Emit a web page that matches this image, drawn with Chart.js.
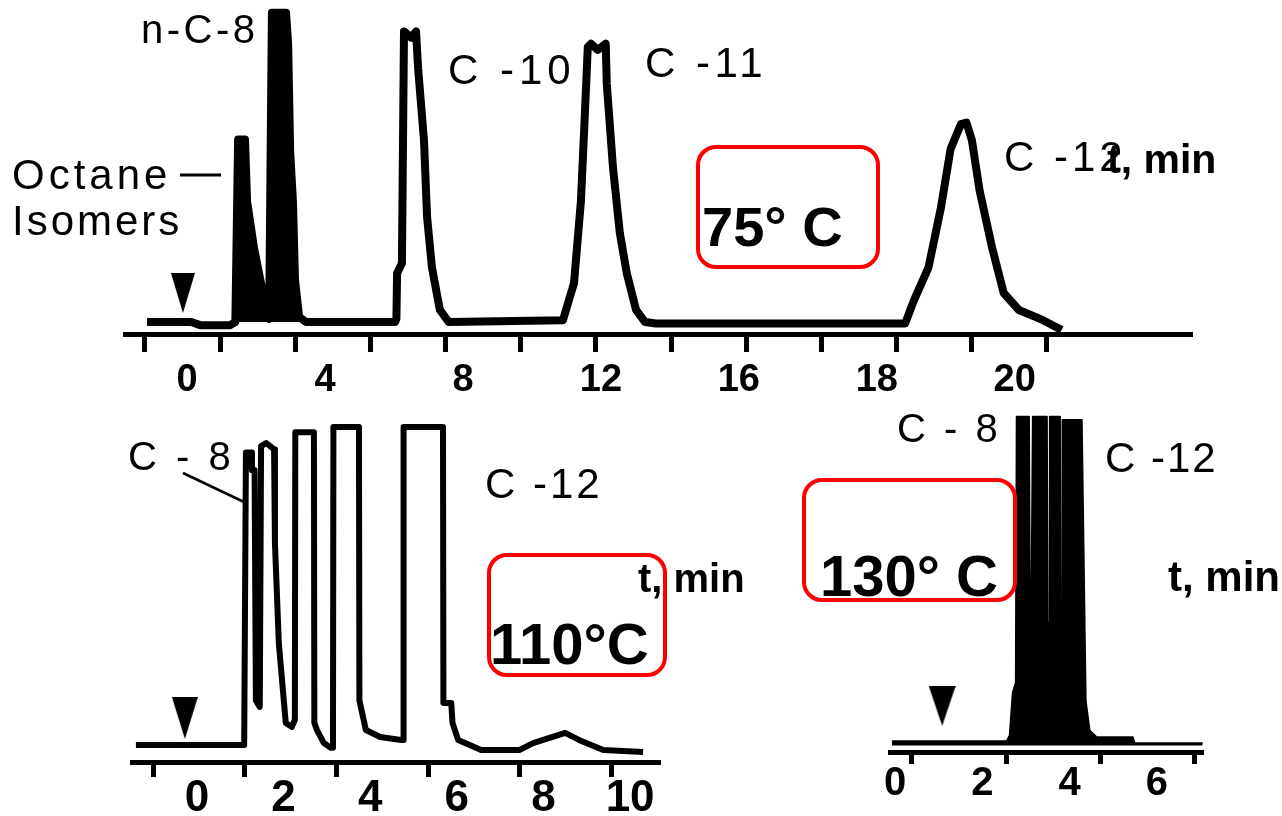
<!DOCTYPE html>
<html><head><meta charset="utf-8">
<script src="https://cdn.jsdelivr.net/npm/chart.js@4.4.1/dist/chart.umd.min.js"></script>
<style>
html,body{margin:0;padding:0;background:#fff;width:1282px;height:816px;overflow:hidden;}
#stage{position:relative;width:1282px;height:816px;overflow:hidden;}
canvas{position:absolute;}
.t{position:absolute;font-family:"Liberation Sans",Arial,sans-serif;color:#000;line-height:1;white-space:pre;}
.b{font-weight:bold;}
.box{position:absolute;border:4px solid #f00;border-radius:20px;box-sizing:border-box;}
svg{position:absolute;left:0;top:0;}
</style></head>
<body><div id="stage">
<canvas id="c75" width="1282" height="420" style="left:0;top:0"></canvas>
<canvas id="c110" width="700" height="425" style="left:0;top:400px"></canvas>
<canvas id="c130" width="400" height="425" style="left:850px;top:400px"></canvas>
</div>
<script>
// ---------------- DATA ----------------
// 75 °C chromatogram: retention time (min) and detector signal (a.u.)
const time75 = [-1.16,0.12,0.38,1.25,1.40,1.48,1.68,1.74,1.94,2.20,2.29,2.38,2.46,2.87,2.93,2.99,3.07,3.13,3.25,3.45,
  6.03,6.07,6.09,6.23,6.29,6.50,6.64,6.70,6.87,6.96,7.10,7.33,7.59,
  10.90,11.22,11.42,11.51,11.62,11.71,11.91,12.14,12.17,12.35,12.55,12.75,13.02,13.28,13.60,
  18.41,18.54,18.75,18.93,19.07,19.22,19.30,19.38,19.49,19.67,19.84,20.06,20.41,20.68];
const signal75 = [0,0,-1,-1,0,59,59,39,24,9.4,3,1,100,100,90,55,39,13.5,1.6,0,
  0,1,15.8,19,94,92,94,82,58.7,33.9,17.7,3.9,0,
  0.6,12.6,39,61,89,90,88,90,77,50,28.7,15.8,3.9,0,-0.5,
  -0.5,7.1,17.7,37,56,64,64.5,58.7,42.6,24.2,9.4,3.9,0.6,-2.6];
const tickLabels75 = [0,4,8,12,16,18,20];
const tickMarks75 = [0,1,2,3,4,5,6,7,8,9,10,11,12];
const injection75 = {t:-0.12, s:9.4};

// 110 °C chromatogram
const time110 = [-1.41,1.09,1.13,1.25,1.27,1.33,1.36,1.45,1.48,1.60,1.78,1.80,1.89,2.05,2.19,2.26,2.27,2.70,2.71,2.77,2.93,3.09,
  3.14,3.15,3.74,3.75,3.90,4.23,4.71,4.76,4.77,5.68,5.69,5.87,5.90,6.03,6.56,7.44,7.76,8.50,8.82,9.38,10.30];
const signal110 = [0,0,92,92,86.5,86.5,14,12,94,95,93,63.5,32,6.9,5.7,7.9,98.4,98.4,6.9,4.7,0.6,-0.9,
  -0.9,100,100,14,4.7,2.5,1.6,1.6,100,100,13.2,13.2,6.9,1.6,-1.6,-1.6,0.6,3.8,1.6,-1.6,-2.2];
const tickLabels110 = [0,2,4,6,8,10];
const tickMarks110 = [0,1,2,3,4,5];
const injection110 = {t:-0.28, s:8.5};

// 130 °C chromatogram
const time130 = [-0.07,2.56,2.63,2.70,2.77,2.79,3.07,3.09,3.13,3.16,3.48,3.50,3.54,3.55,3.78,3.80,3.83,3.84,4.28,4.37,4.46,4.62,5.45,5.49,7.05];
const signal130 = [0,0,1.8,15,18,100,100,42.7,42.7,100,100,36.7,36.7,100,100,17.6,17.6,99,99,12.4,3.3,1.2,1.2,-0.6,-0.6];
const tickLabels130 = [0,2,4,6];
const tickMarks130 = [0,1,2,3];
const injection130 = {t:1.08, s:10.9};

// ---------------- SCALE: tick labels sit on evenly spaced slots ----------------
const SLOT_KNOTS = {c75: tickLabels75, c110: tickLabels110, c130: tickLabels130};
class SlotScale extends Chart.LinearScale {
  _k(){ return SLOT_KNOTS[this.chart.canvas.id]; }
  _toSlot(v){ const k=this._k(); let i=0; while(i<k.length-2 && v>k[i+1]) i++; return i+(v-k[i])/(k[i+1]-k[i]); }
  _fromSlot(s){ const k=this._k(); const i=Math.min(Math.max(Math.floor(s),0),k.length-2); return k[i]+(s-i)*(k[i+1]-k[i]); }
  getPixelForValue(v){
    if (v===null||v===undefined||isNaN(v)) return NaN;
    const a=this._toSlot(this.min), b=this._toSlot(this.max);
    return this.getPixelForDecimal((this._toSlot(v)-a)/(b-a));
  }
  getValueForPixel(p){
    const a=this._toSlot(this.min), b=this._toSlot(this.max);
    return this._fromSlot(a+this.getDecimalForPixel(p)*(b-a));
  }
}
SlotScale.id='slot';
SlotScale.defaults=Chart.LinearScale.defaults;
Chart.register(SlotScale);

function arrow(w,h){
  const c=document.createElement('canvas'); c.width=w; c.height=h;
  const g=c.getContext('2d'); g.fillStyle='#000';
  g.beginPath(); g.moveTo(0,0); g.lineTo(w,0); g.lineTo(w/2,h); g.closePath(); g.fill();
  return c;
}

function makeChart(id, cfg){
  const pts = cfg.time.map((t,i)=>({x:t, y:cfg.signal[i]}));
  const datasets = [{
    data: pts, borderColor:'#000', borderWidth:cfg.lw, pointRadius:0, tension:0,
    fill: cfg.fillTo!==undefined ? {value:cfg.fillTo} : false, backgroundColor:'#000', clip:false,
    borderJoinStyle:'round'
  }];
  if (cfg.fillRange){
    datasets.push({data: pts.filter(p=>p.x>=cfg.fillRange[0] && p.x<=cfg.fillRange[1]), borderColor:'#000', borderWidth:2,
      pointRadius:0, fill:{target:'origin'}, backgroundColor:'#000', clip:false});
  }
  datasets.push({type:'scatter', data:[{x:cfg.inj.t, y:cfg.inj.s}], pointStyle: arrow(cfg.arrowW, cfg.arrowH), pointRadius:10, clip:false});
  return new Chart(document.getElementById(id), {
    type:'line',
    data:{datasets},
    options:{
      responsive:false, animation:false, events:[],
      layout:{padding:cfg.pad},
      plugins:{legend:{display:false}, tooltip:{enabled:false}},
      scales:{
        x:{type:'slot', position:'bottom', weight:1, min:cfg.xmin, max:cfg.xmax,
          afterBuildTicks:(sc)=>{ sc.ticks = cfg.labels.map(v=>({value:v})); },
          grid:{display:false, drawTicks:false}, border:{display:false},
          ticks:{callback:(v)=>String(v), color:'#000', padding:cfg.lpad, maxRotation:0, autoSkip:false,
            font:{family:'"Liberation Sans", Arial, sans-serif', weight:'bold', size:cfg.fs, lineHeight:1}}},
        m:{type:'linear', position:'bottom', weight:0, min:cfg.mmin, max:cfg.mmax,
          afterBuildTicks:(sc)=>{ sc.ticks = cfg.marks.map(v=>({value:v})); },
          grid:{drawOnChartArea:false, drawTicks:true, tickLength:cfg.tl, tickWidth:5, tickColor:'#000'},
          border:{display:true, width:5, color:'#000'},
          ticks:{display:false}},
        y:{display:false, min:cfg.ymin, max:cfg.ymax}
      }
    }
  });
}

makeChart('c75', {time:time75, signal:signal75, labels:tickLabels75, marks:tickMarks75, inj:injection75,
  xmin:-1.80, xmax:22.57, mmin:-0.266, mmax:13.93, ymin:-3.87, ymax:100.6,
  pad:{left:125,right:90,top:10,bottom:10}, fs:38, lpad:10, tl:18, lw:8, fillRange:[1.3,3.5], arrowW:24, arrowH:40});
makeChart('c110', {time:time110, signal:signal110, labels:tickLabels110, marks:tickMarks110, inj:injection110,
  xmin:-1.50, xmax:10.69, mmin:-0.23, mmax:5.53, ymin:-5.35, ymax:103.8,
  pad:{left:132,right:40,top:15,bottom:4}, fs:44, lpad:0, tl:15, lw:6, arrowW:26, arrowH:42});
makeChart('c130', {time:time130, signal:signal130, labels:tickLabels130, marks:tickMarks130, inj:injection130,
  xmin:-0.115, xmax:7.06, mmin:-0.233, mmax:3.086, ymin:-3.33, ymax:101.8,
  pad:{left:40,right:47,top:5,bottom:21}, fs:40, lpad:0, tl:12, lw:2, fillTo:-1.3, arrowW:27, arrowH:40});

// ---------------- ANNOTATIONS (real text) ----------------
const notes = [
  {s:'n-C-8', x:141, y:9, f:40, ls:3.5},
  {s:'Octane', x:12, y:154, f:42, ls:4},
  {s:'Isomers', x:12, y:200, f:42, ls:3},
  {s:'C -10', x:448, y:49, f:42, ls:5},
  {s:'C -11', x:645, y:42, f:42, ls:4.5},
  {s:'C -12', x:1004, y:136, f:42, ls:4},
  {s:'t, min', x:1107, y:139, f:41, b:1},
  {s:'75\u00b0 C', x:702, y:199, f:56, b:1},
  {s:'C - 8', x:128, y:436, f:40, ls:4},
  {s:'C -12', x:485, y:463, f:42, ls:3},
  {s:'t, min', x:638, y:558, f:40, b:1},
  {s:'110\u00b0C', x:490, y:615, f:58, b:1},
  {s:'C - 8', x:897, y:408, f:40, ls:3.5},
  {s:'C -12', x:1105, y:437, f:42, ls:2},
  {s:'130\u00b0 C', x:820, y:547, f:58, b:1},
  {s:'t, min', x:1168, y:556, f:42, b:1}
];
const boxes = [[696,145,184,124],[487,553,180,124],[802,478,215,124]];
const stage=document.getElementById('stage');
for (const b of boxes){ const d=document.createElement('div'); d.className='box';
  Object.assign(d.style,{left:b[0]+'px',top:b[1]+'px',width:b[2]+'px',height:b[3]+'px'}); stage.appendChild(d); }
for (const n of notes){ const d=document.createElement('div'); d.className='t'+(n.b?' b':'');
  d.textContent=n.s; Object.assign(d.style,{left:n.x+'px',top:n.y+'px',fontSize:n.f+'px',letterSpacing:(n.ls||0)+'px'}); stage.appendChild(d); }
stage.insertAdjacentHTML('beforeend','<svg width="1282" height="816"><line x1="180" y1="175" x2="221" y2="175" stroke="#000" stroke-width="3"/><line x1="183" y1="473" x2="244" y2="502" stroke="#000" stroke-width="2.5"/></svg>');
</script>
</body></html>
